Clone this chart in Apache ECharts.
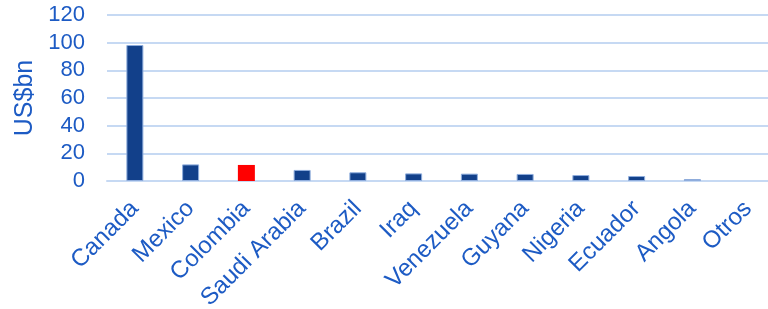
<!DOCTYPE html>
<html>
<head>
<meta charset="utf-8">
<script src="https://cdn.jsdelivr.net/npm/echarts@6/dist/echarts.min.js"></script>
<style>
  html, body { margin: 0; padding: 0; background: #fff; }
  #chart { width: 768px; height: 309px; }
</style>
</head>
<body>
<div id="chart"></div>
<script>
// datos
var countries = ['Canada', 'Mexico', 'Colombia', 'Saudi Arabia', 'Brazil', 'Iraq',
                 'Venezuela', 'Guyana', 'Nigeria', 'Ecuador', 'Angola', 'Otros'];
var values = [98.3, 12.0, 11.6, 8.0, 6.3, 5.5, 5.3, 5.1, 4.3, 3.6, 1.4, 0];
var highlight = 'Colombia';

var textBlue = '#1D5BC4';
var barBlue = '#12408A';
var gridBlue = '#C6D9F3';

var chart = echarts.init(document.getElementById('chart'));

var barData = values.map(function(v, i) {
    if (countries[i] === highlight) {
        return { value: v, itemStyle: { color: '#FF0000', borderWidth: 0 } };
    }
    if (v === 0) {
        return { value: v, itemStyle: { borderWidth: 0 } };
    }
    return v;
});

var option = {
    animation: false,
    grid: { left: 107, top: 15, width: 669, height: 166, outerBoundsMode: 'none' },
    xAxis: {
        type: 'category',
        data: countries,
        axisLine: { lineStyle: { color: gridBlue, width: 2 } },
        axisTick: { show: false },
        axisLabel: {
            rotate: 45,
            interval: 0,
            margin: 24,
            color: textBlue,
            fontFamily: 'Liberation Sans, Arial',
            fontSize: 24
        }
    },
    yAxis: {
        type: 'value',
        min: 0,
        max: 120,
        interval: 20,
        name: 'US$bn',
        nameLocation: 'middle',
        nameGap: 66,
        nameTextStyle: { color: textBlue, fontFamily: 'Liberation Sans, Arial', fontSize: 25 },
        axisLine: { show: false },
        axisTick: { show: false },
        splitLine: { lineStyle: { color: gridBlue, width: 2 } },
        axisLabel: {
            margin: 22,
            color: textBlue,
            fontFamily: 'Liberation Sans, Arial',
            fontSize: 22
        }
    },
    series: [{
        type: 'bar',
        data: barData,
        barWidth: 17,
        itemStyle: { color: barBlue, borderColor: '#8FADDD', borderWidth: 1 }
    }]
};

chart.setOption(option);
</script>
</body>
</html>
